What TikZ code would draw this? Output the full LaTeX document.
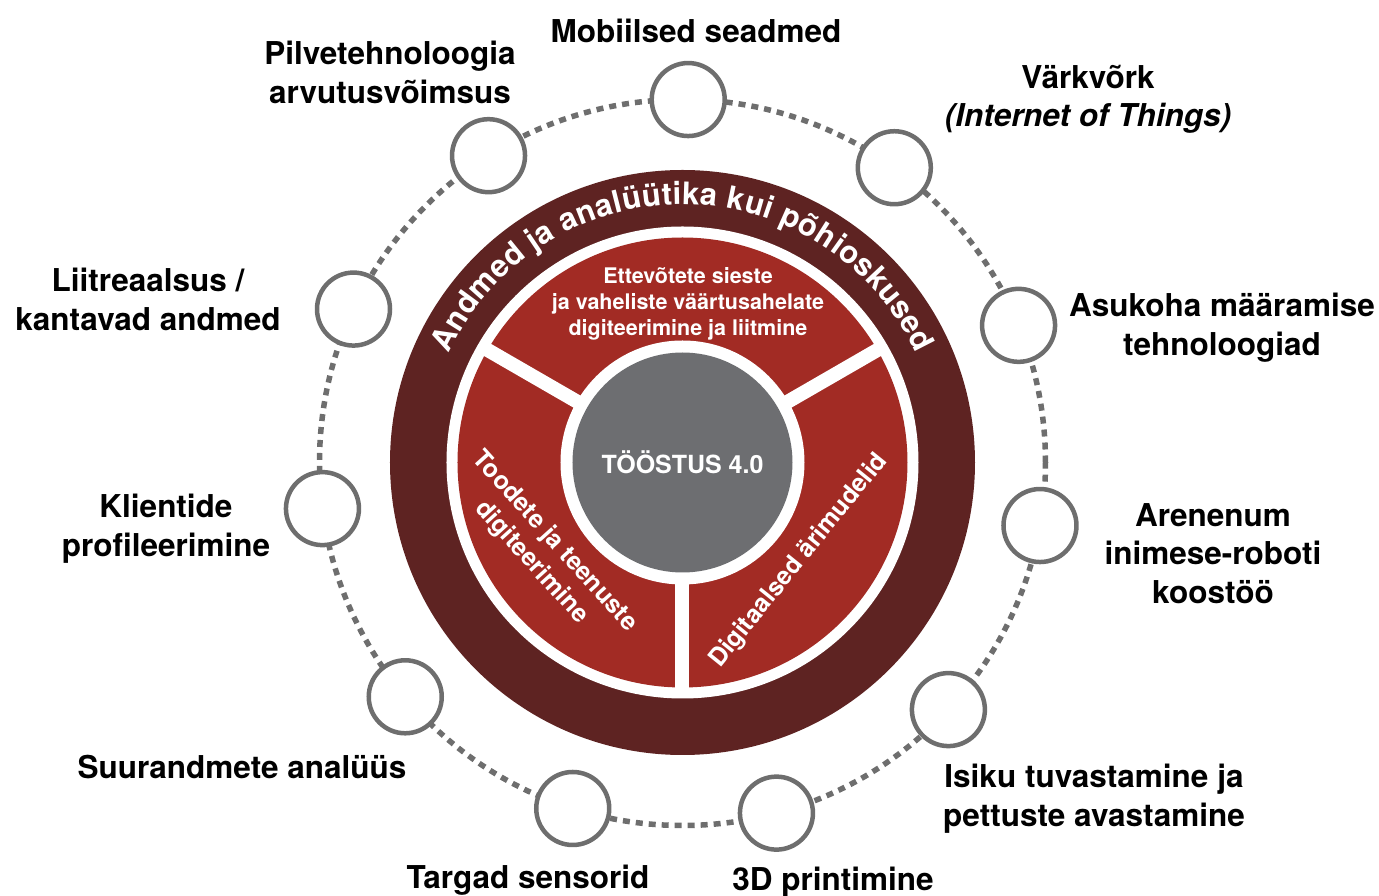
\documentclass[tikz,border=0pt]{standalone}
\usepackage{fontspec}
\setmainfont{TeX Gyre Heros}
\usepackage{xcolor}
\usetikzlibrary{decorations.text}
\definecolor{ringdark}{HTML}{5E2322}
\definecolor{sectorred}{HTML}{A22B24}
\definecolor{coregray}{HTML}{6D6E71}
\definecolor{hubgray}{HTML}{6E6E6E}

\begin{document}
\begin{tikzpicture}[x=1pt,y=1pt]
\tikzset{hub/.style={circle,draw=hubgray,fill=white,line width=4.5pt,minimum size=73pt,inner sep=0pt}}
\tikzset{topic/.style={font=\fontsize{31.5}{38.5}\selectfont\bfseries,align=center,inner sep=0pt}}
\tikzset{sector/.style={text=white,font=\fontsize{25}{31}\selectfont\bfseries,align=center,inner sep=0pt}}
\tikzset{spoke/.style={white,line width=14pt}}

\useasboundingbox (-682.5,-433.5) rectangle (696.5,462.5);

% dashed ring
\draw[hubgray,line width=5.5pt,dash pattern=on 7pt off 6pt] (0,0) circle[radius=363pt];

% core rings and sectors
\fill[ringdark] (0,0) circle[radius=292.5pt];
\fill[white] (0,0) circle[radius=236pt];
\fill[sectorred] (0,0) circle[radius=225pt];
\foreach \a in {30,150,270} \draw[spoke] (0,0) -- (\a:230);
\fill[white] (0,0) circle[radius=122pt];
\node[circle,fill=coregray,minimum size=220pt,inner sep=0pt,text=white,font=\fontsize{25}{25}\selectfont\bfseries] (core) at (0,0) {TÖÖSTUS 4.0};

\path[decorate,decoration={text along path,text align=fit to path,text color=white,
  text={|\fontsize{31}{31}\selectfont\bfseries|Andmed ja analüütika kui põhioskused}}]
  (155:258) arc[start angle=155,end angle=25,radius=258pt];

\node[sector,font=\fontsize{21.5}{26}\selectfont\bfseries] (valuechain) at (5.5,158.5) {Ettevõtete sieste\\ja vaheliste väärtusahelate\\digiteerimine ja liitmine};
\node[sector,rotate=-48] (products) at (-139.5,-89.5) {Toodete ja teenuste\\digiteerimine};
\node[sector,rotate=51] (business) at (116.5,-98.5) {Digitaalsed ärimudelid};

% technologies
\node[hub] (mobile) at (89.1:363) {};
\node[hub] (cloud) at (122.3:363) {};
\node[hub] (iot) at (54.3:363) {};
\node[hub] (augment) at (155:363) {};
\node[hub] (location) at (22.2:363) {};
\node[hub] (profile) at (187.3:363) {};
\node[hub] (robot) at (-10:363) {};
\node[hub] (bigdata) at (220.2:363) {};
\node[hub] (identity) at (-42.9:363) {};
\node[hub] (sensor) at (252.4:363) {};
\node[hub] (print) at (285:363) {};

\node[topic] (mobiletext) at (13.5,431.5) {Mobiilsed seadmed};
\node[topic] (cloudtext) at (-292.5,390) {Pilvetehnoloogia\\arvutusvõimsus};
\node[topic] (iottext) at (405.5,363) {Värkvõrk\\\textit{(Internet of Things)}};
\node[topic] (augmenttext) at (-534.5,163) {Liitreaalsus /\\kantavad andmed};
\node[topic] (locationtext) at (539.5,135) {Asukoha määramise\\tehnoloogiad};
\node[topic] (profiletext) at (-516.5,-66) {Klientide\\profileerimine};
\node[topic] (robottext) at (530.5,-91) {Arenenum\\inimese-roboti\\koostöö};
\node[topic] (bigdatatext) at (-440.5,-305) {Suurandmete analüüs};
\node[topic] (identitytext) at (411.5,-336) {Isiku tuvastamine ja\\pettuste avastamine};
\node[topic] (sensortext) at (-154.5,-417.5) {Targad sensorid};
\node[topic] (printtext) at (150.5,-419.5) {3D printimine};
\end{tikzpicture}
\end{document}
